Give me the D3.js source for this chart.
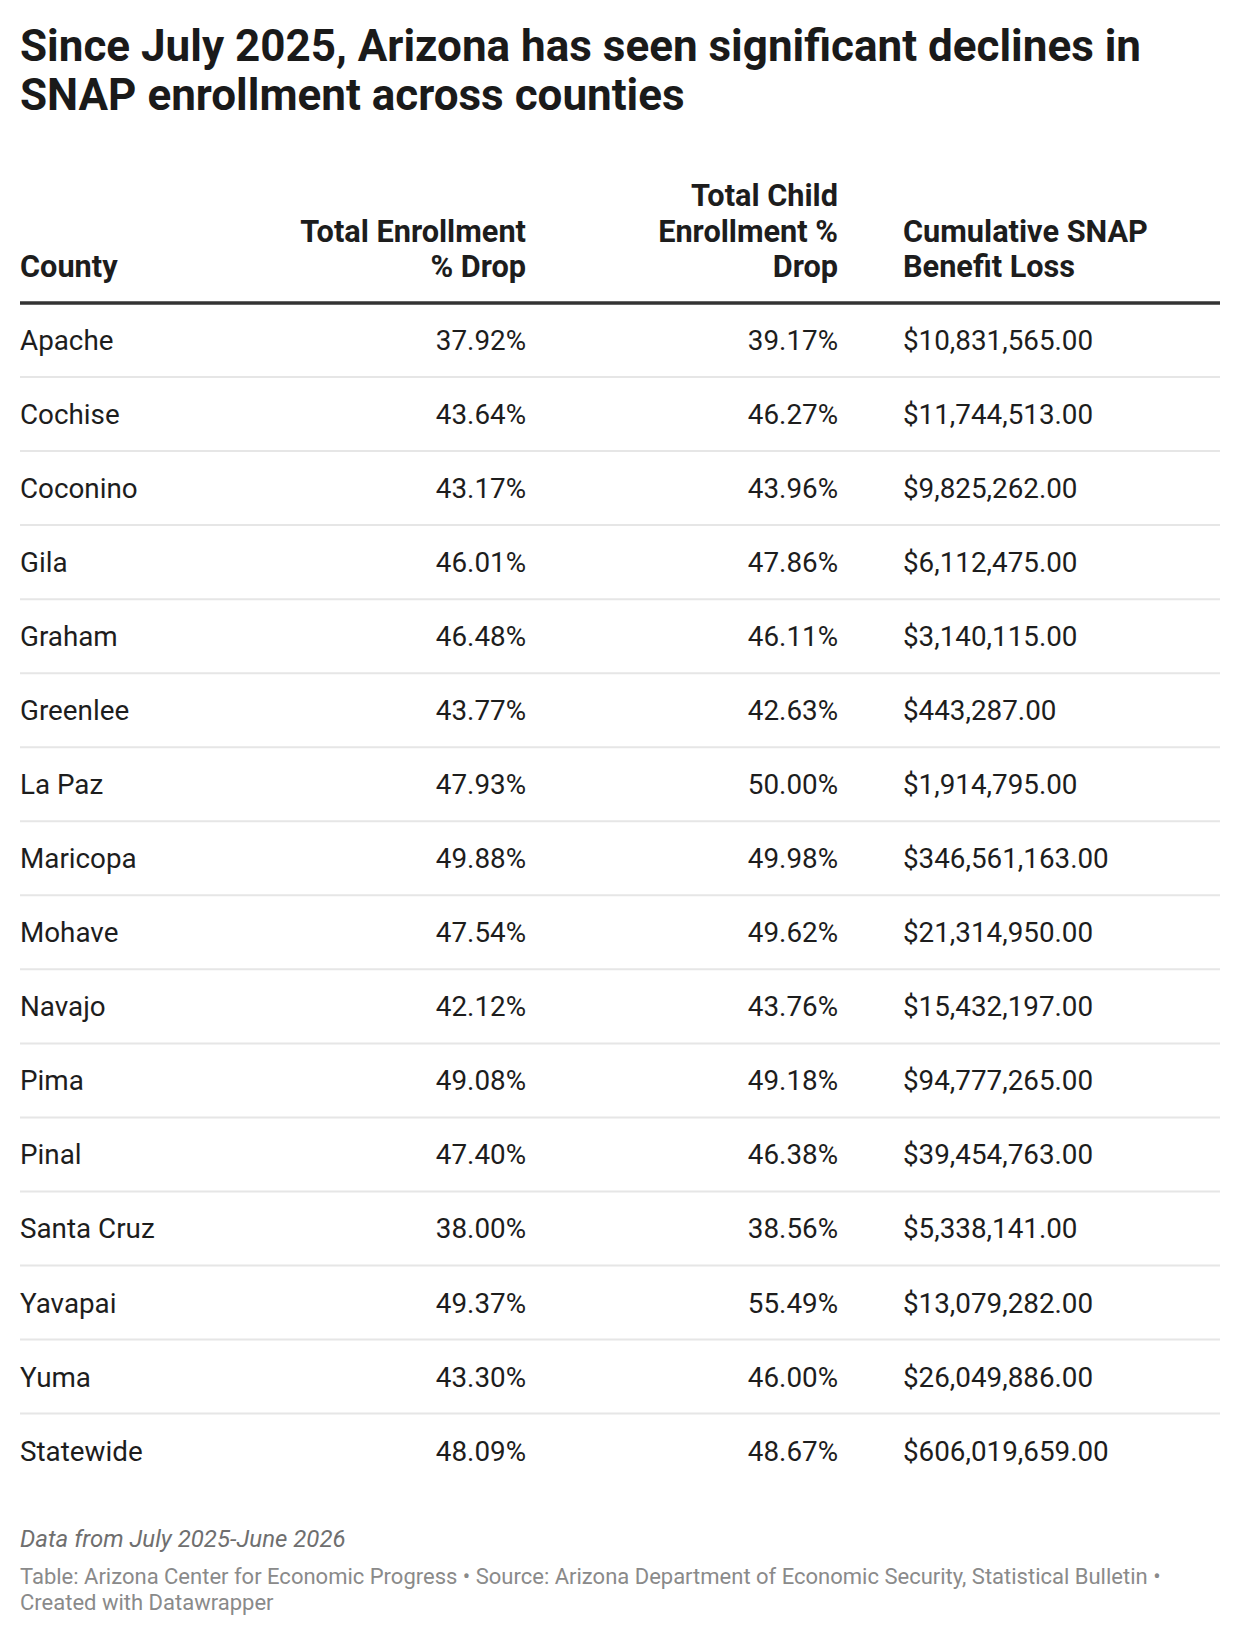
<!DOCTYPE html>
<html>
<head>
<meta charset="utf-8">
<script src="https://cdn.jsdelivr.net/npm/d3@7"></script>
<style>
  html, body { margin: 0; padding: 0; background: #ffffff; }
  svg { display: block; font-family: Roboto, "Noto Sans", sans-serif; }
</style>
</head>
<body>
<svg id="chart"></svg>
<script>
(function () {
  "use strict";

  // ── Data ────────────────────────────────────────────────────────────────
  var counties = ["Apache", "Cochise", "Coconino", "Gila", "Graham", "Greenlee",
    "La Paz", "Maricopa", "Mohave", "Navajo", "Pima", "Pinal", "Santa Cruz",
    "Yavapai", "Yuma", "Statewide"];
  var totalDrop = [37.92, 43.64, 43.17, 46.01, 46.48, 43.77, 47.93, 49.88,
    47.54, 42.12, 49.08, 47.40, 38.00, 49.37, 43.30, 48.09];
  var childDrop = [39.17, 46.27, 43.96, 47.86, 46.11, 42.63, 50.00, 49.98,
    49.62, 43.76, 49.18, 46.38, 38.56, 55.49, 46.00, 48.67];
  var benefitLoss = [10831565, 11744513, 9825262, 6112475, 3140115, 443287,
    1914795, 346561163, 21314950, 15432197, 94777265, 39454763, 5338141,
    13079282, 26049886, 606019659];

  var headers = [
    ["County"],
    ["Total Enrollment", "% Drop"],
    ["Total Child", "Enrollment %", "Drop"],
    ["Cumulative SNAP", "Benefit Loss"]
  ];

  var titleLines = ["Since July 2025, Arizona has seen significant declines in",
    "SNAP enrollment across counties"];
  var note = "Data from July 2025-June 2026";
  var sourceLines = ["Table: Arizona Center for Economic Progress \u2022 Source: Arizona Department of Economic Security, Statistical Bulletin \u2022",
    "Created with Datawrapper"];

  // ── Layout ──────────────────────────────────────────────────────────────
  var W = 1240, H = 1636;
  var left = 20, right = W - 20;
  var tableTop = 303, rowH = 74.04;

  var C = {
    title: "#1a1a1a",
    text: "#1d1d1d",
    rule: "#333333",
    sep: "#e6e6e6",
    note: "#6f6f6f",
    source: "#8a8a8a"
  };

  var pct = function (v) { return d3.format(".2f")(v) + "%"; };
  var money = d3.format("$,.2f");

  // column anchors: x position + text-anchor
  var cols = [
    { x: left, anchor: "start", fmt: function (i) { return counties[i]; } },
    { x: 526, anchor: "end", fmt: function (i) { return pct(totalDrop[i]); } },
    { x: 838, anchor: "end", fmt: function (i) { return pct(childDrop[i]); } },
    { x: 903, anchor: "start", fmt: function (i) { return money(benefitLoss[i]); } }
  ];

  var y = d3.scaleBand()
    .domain(d3.range(counties.length))
    .range([tableTop, tableTop + rowH * counties.length])
    .paddingInner(0);

  var svg = d3.select("#chart")
    .attr("width", W)
    .attr("height", H)
    .attr("viewBox", [0, 0, W, H]);

  // ── Title ───────────────────────────────────────────────────────────────
  svg.append("g")
    .selectAll("text")
    .data(titleLines)
    .join("text")
    .attr("x", left)
    .attr("y", function (d, i) { return 61 + i * 48.5; })
    .attr("font-size", 44)
    .attr("font-weight", 700)
    .attr("fill", C.title)
    .text(function (d) { return d; });

  // ── Header ──────────────────────────────────────────────────────────────
  var headerBase = 277, headerLine = 35.5;
  var head = svg.append("g").attr("class", "header");
  headers.forEach(function (lines, c) {
    head.append("text")
      .attr("text-anchor", cols[c].anchor)
      .attr("font-size", 30.7)
      .attr("font-weight", 700)
      .attr("fill", C.text)
      .selectAll("tspan")
      .data(lines)
      .join("tspan")
      .attr("x", cols[c].x)
      .attr("y", function (d, i) { return headerBase - (lines.length - 1 - i) * headerLine; })
      .text(function (d) { return d; });
  });

  head.append("line")
    .attr("x1", left).attr("x2", right)
    .attr("y1", tableTop).attr("y2", tableTop)
    .attr("stroke", C.rule)
    .attr("stroke-width", 3.5);

  // ── Rows ────────────────────────────────────────────────────────────────
  var rows = svg.append("g").attr("class", "rows")
    .selectAll("g")
    .data(d3.range(counties.length))
    .join("g")
    .attr("transform", function (i) { return "translate(0," + y(i) + ")"; });

  rows.filter(function (i) { return i < counties.length - 1; })
    .append("line")
    .attr("x1", left).attr("x2", right)
    .attr("y1", y.bandwidth()).attr("y2", y.bandwidth())
    .attr("stroke", C.sep)
    .attr("stroke-width", 2);

  cols.forEach(function (col) {
    rows.append("text")
      .attr("x", col.x)
      .attr("y", y.bandwidth() / 2 + 10)
      .attr("text-anchor", col.anchor)
      .attr("font-size", 27.8)
      .attr("fill", C.text)
      .text(function (i) { return col.fmt(i); });
  });

  // ── Footer ──────────────────────────────────────────────────────────────
  svg.append("text")
    .attr("x", left)
    .attr("y", 1547)
    .attr("font-size", 24)
    .attr("font-style", "italic")
    .attr("fill", C.note)
    .text(note);

  svg.append("g")
    .selectAll("text")
    .data(sourceLines)
    .join("text")
    .attr("x", left)
    .attr("y", function (d, i) { return 1584 + i * 25.5; })
    .attr("font-size", 22)
    .attr("fill", C.source)
    .text(function (d) { return d; });
})();
</script>
</body>
</html>
